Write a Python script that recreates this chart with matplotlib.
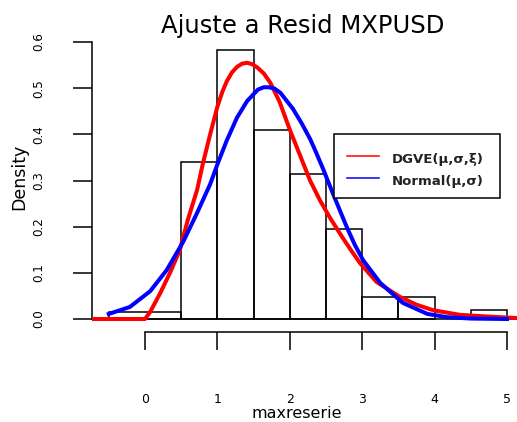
import matplotlib
matplotlib.use("Agg")
import matplotlib.pyplot as plt
from matplotlib.patches import Rectangle
from matplotlib.lines import Line2D

# Histogram of residual maxima (density scale)
bin_edges = [-0.5, 0.5, 1.0, 1.5, 2.0, 2.5, 3.0, 3.5, 4.0, 4.5, 5.0]
bin_density = [0.016, 0.34, 0.583, 0.41, 0.314, 0.195, 0.048, 0.048, 0.0, 0.02]

# Fitted GEV density
gev_x = [-0.73, 0.0, 0.07, 0.21, 0.345, 0.48, 0.59, 0.72, 0.80, 0.90, 1.0,
         1.07, 1.13, 1.2, 1.27, 1.34, 1.41, 1.48, 1.55, 1.64, 1.73, 1.86,
         2.0, 2.14, 2.28, 2.42, 2.56, 2.73, 2.85, 2.97, 3.2, 3.52, 3.75,
         3.98, 4.35, 4.77, 5.14]
gev_y = [0.0, 0.0, 0.015, 0.056, 0.10, 0.149, 0.214, 0.28, 0.337, 0.40, 0.46,
         0.493, 0.515, 0.534, 0.546, 0.553, 0.555, 0.552, 0.545, 0.532, 0.512, 0.47,
         0.41, 0.355, 0.30, 0.256, 0.218, 0.176, 0.148, 0.121, 0.08, 0.048, 0.031,
         0.019, 0.009, 0.005, 0.002]

# Fitted normal density
norm_x = [-0.5, -0.21, 0.07, 0.30, 0.53, 0.72, 0.90, 1.0, 1.13, 1.27, 1.41,
          1.56, 1.64, 1.71, 1.79, 1.87, 2.04, 2.16, 2.28, 2.36, 2.46, 2.60,
          2.70, 2.79, 2.9, 3.01, 3.25, 3.56, 3.9, 4.17, 4.5, 5.0]
norm_y = [0.011, 0.026, 0.06, 0.106, 0.168, 0.23, 0.292, 0.335, 0.387, 0.436, 0.472,
          0.497, 0.502, 0.502, 0.499, 0.49, 0.456, 0.425, 0.39, 0.362, 0.325, 0.27,
          0.232, 0.198, 0.16, 0.128, 0.078, 0.035, 0.011, 0.004, 0.001, 0.0]

x_ticks = [0, 1, 2, 3, 4, 5]
y_ticks = [0.0, 0.1, 0.2, 0.3, 0.4, 0.5, 0.6]
y_tick_labels = ["0.0", "0.1", "0.2", "0.3", "0.4", "0.5", "0.6"]

W, H = 517, 422
fig = plt.figure(figsize=(W / 100, H / 100), dpi=100)
ax = fig.add_axes([92 / W, (H - 360) / H, 1 - 92 / W, 330 / H])
ax.set_xlim(-0.732, 5.138)
ax.set_ylim(-0.0888, 0.626)

# histogram bars
for i, h in enumerate(bin_density):
    left, right = bin_edges[i], bin_edges[i + 1]
    if h > 0:
        ax.add_patch(Rectangle((left, 0), right - left, h, facecolor="none",
                               edgecolor="black", linewidth=1.1, zorder=2))
ax.axhline(0, color="black", linewidth=1.1, zorder=2)

ax.plot(gev_x, gev_y, color="#ff0000", linewidth=2.9, zorder=3,
        solid_joinstyle="round")
ax.plot(norm_x, norm_y, color="#0000ff", linewidth=2.9, zorder=4,
        solid_joinstyle="round")

# R-style detached axes
for s in ["top", "right"]:
    ax.spines[s].set_visible(False)
ax.spines["left"].set_bounds(0, 0.6)
ax.spines["left"].set_linewidth(1.1)
ax.spines["bottom"].set_position(("data", -0.02816))
ax.spines["bottom"].set_bounds(0, 5)
ax.spines["bottom"].set_linewidth(1.1)
ax.set_xticks(x_ticks)
ax.set_xticklabels([str(t) for t in x_ticks])
ax.set_yticks(y_ticks)
ax.set_yticklabels(y_tick_labels)
ax.tick_params(axis="x", direction="out", length=13, width=1.1, pad=31,
               labelsize=9, colors="black")
ax.tick_params(axis="y", direction="out", length=13.7, width=1.1, pad=20,
               labelsize=8.6, labelrotation=90)
for lbl in ax.get_yticklabels():
    lbl.set_va("center")

fig.text(303 / W, (H - 33) / H, "Ajuste a Resid MXPUSD", ha="center",
         va="baseline", fontsize=17.5)
fig.text(19 / W, (H - 177) / H, "Density", rotation=90, ha="center",
         va="center", fontsize=12.5)
fig.text(297 / W, (H - 413) / H, "maxreserie", ha="center", va="center",
         fontsize=11.5)

# legend box
fig.add_artist(Rectangle((334 / W, (H - 198) / H), 166 / W, 64 / H,
                         transform=fig.transFigure, facecolor="white",
                         edgecolor="black", linewidth=1.1, zorder=5))
for yy, col, txt in [(156, "#ff0000", "DGVE(μ,σ,ξ)"),
                     (178, "#0000ff", "Normal(μ,σ)")]:
    fig.add_artist(Line2D([347 / W, 379 / W], [(H - yy) / H] * 2,
                          transform=fig.transFigure, color=col,
                          linewidth=1.1, zorder=6))
    fig.text(392 / W, (H - yy - 4) / H, txt, ha="left", va="center",
             fontsize=9.5, fontweight="bold", color="#222222", zorder=6)

fig.savefig("out.png", dpi=100)
